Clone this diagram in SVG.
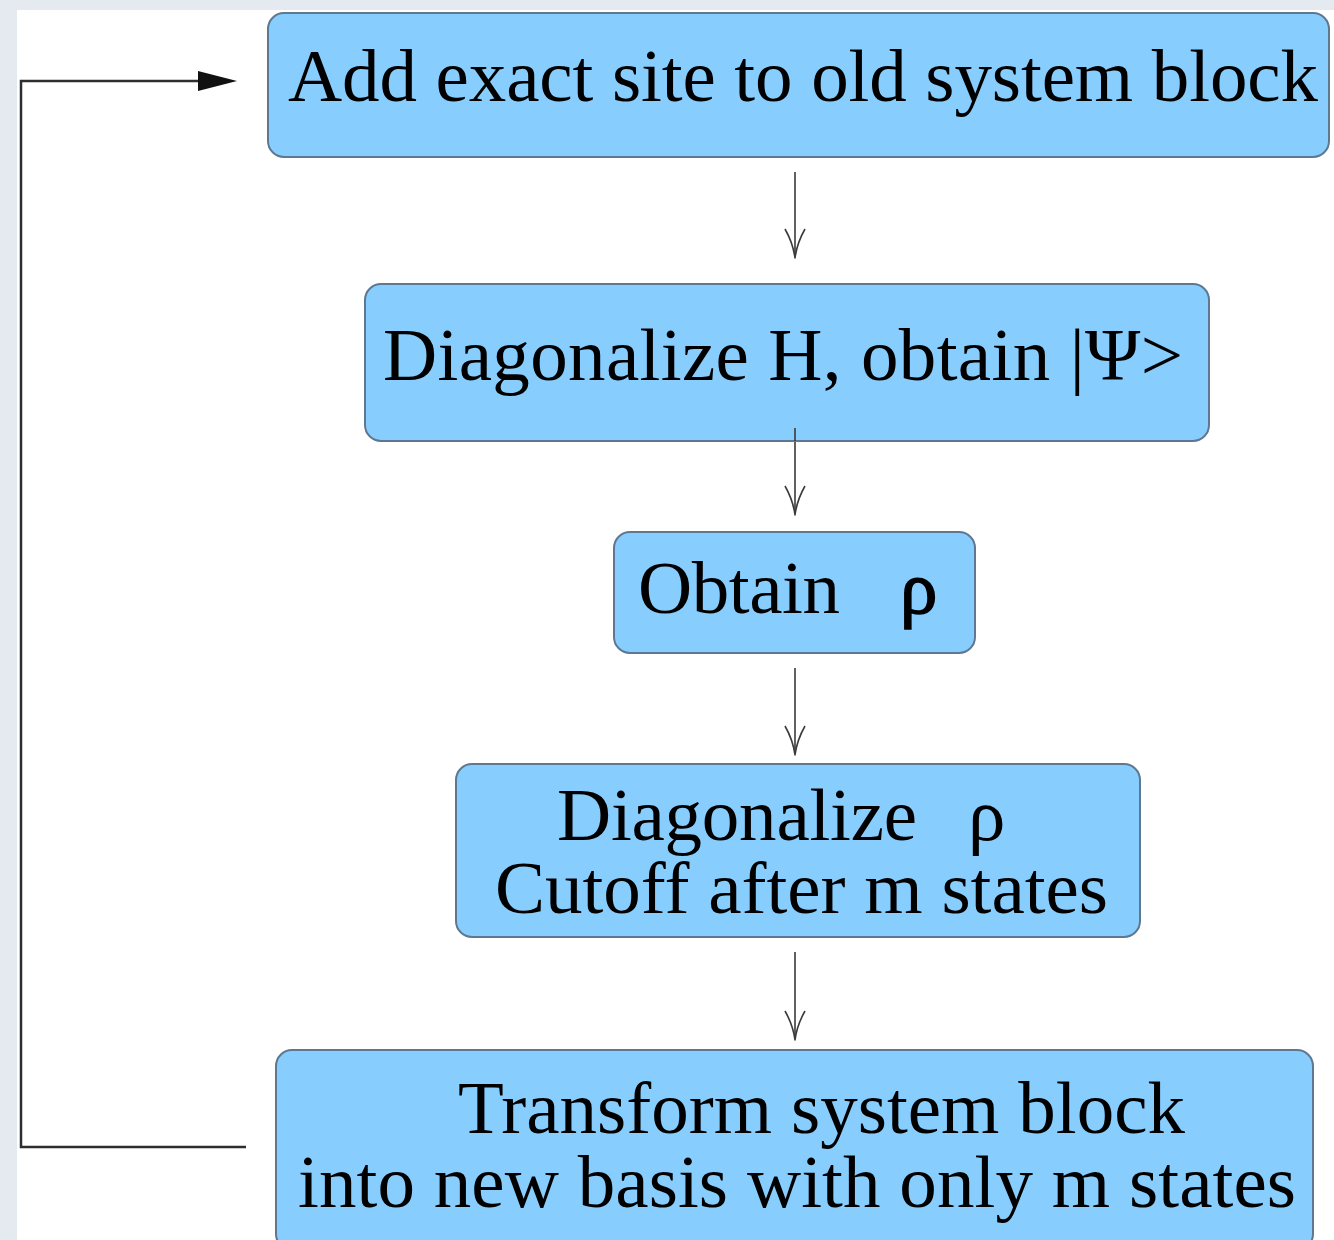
<svg xmlns="http://www.w3.org/2000/svg" width="1334" height="1240" viewBox="0 0 1334 1240">
<style>
.box{fill:#87CEFF;stroke:#5d7890;stroke-width:2}
.t{font-family:"Liberation Serif","Times New Roman",serif;font-size:75px;fill:#000}
.flow{fill:none;stroke:#3a3a3a;stroke-width:1.6}
.head{fill:none;stroke:#3a3a3a;stroke-width:1.6;stroke-linejoin:round}
.loop{fill:none;stroke:#2e2e2e;stroke-width:2.5}
</style>
<rect x="0" y="0" width="1334" height="1240" fill="#e5eaf1"/>
<rect x="17" y="10" width="1317" height="1230" fill="#ffffff"/>
<g id="connectors">
<path class="loop" d="M246,1147 H21 V81 H200"/>
<polygon points="198,71 237,81 198,91" fill="#111"/>
<line class="flow" x1="795" y1="172" x2="795" y2="257"/>
<path class="head" d="M785,229 Q793,243 795,258 Q797,243 805,229"/>
<line class="flow" x1="795" y1="428" x2="795" y2="514"/>
<path class="head" d="M785,486 Q793,500 795,515 Q797,500 805,486"/>
<line class="flow" x1="795" y1="668" x2="795" y2="754"/>
<path class="head" d="M785,726 Q793,740 795,755 Q797,740 805,726"/>
<line class="flow" x1="795" y1="952" x2="795" y2="1039"/>
<path class="head" d="M785,1011 Q793,1025 795,1040 Q797,1025 805,1011"/>
</g>
<g id="node1">
<rect class="box" x="268" y="13" width="1061" height="144" rx="16"/>
<text class="t" x="288" y="101" textLength="1030" lengthAdjust="spacing">Add exact site to old system block</text>
</g>
<g id="node2">
<rect class="box" x="365" y="284" width="844" height="157" rx="16"/>
<text class="t" x="383" y="380" textLength="800" lengthAdjust="spacing">Diagonalize H, obtain |Ψ&gt;</text>
</g>
<line class="flow" x1="795" y1="428" x2="795" y2="441"/>
<g id="node3">
<rect class="box" x="614" y="532" width="361" height="121" rx="16"/>
<text class="t" x="638" y="613" textLength="202" lengthAdjust="spacing">Obtain</text>
<text class="t" x="900" y="613" stroke="#000" stroke-width="1.5">ρ</text>
</g>
<g id="node4">
<rect class="box" x="456" y="764" width="684" height="173" rx="16"/>
<text class="t" x="557" y="840" textLength="360" lengthAdjust="spacing">Diagonalize</text>
<text class="t" x="968" y="840">ρ</text>
<text class="t" x="495" y="913" textLength="613" lengthAdjust="spacing">Cutoff after m states</text>
</g>
<g id="node5">
<rect class="box" x="276" y="1050" width="1037" height="200" rx="16"/>
<text class="t" x="458" y="1133" textLength="727" lengthAdjust="spacing">Transform system block</text>
<text class="t" x="298" y="1207" textLength="998" lengthAdjust="spacing">into new basis with only m states</text>
</g>
</svg>
